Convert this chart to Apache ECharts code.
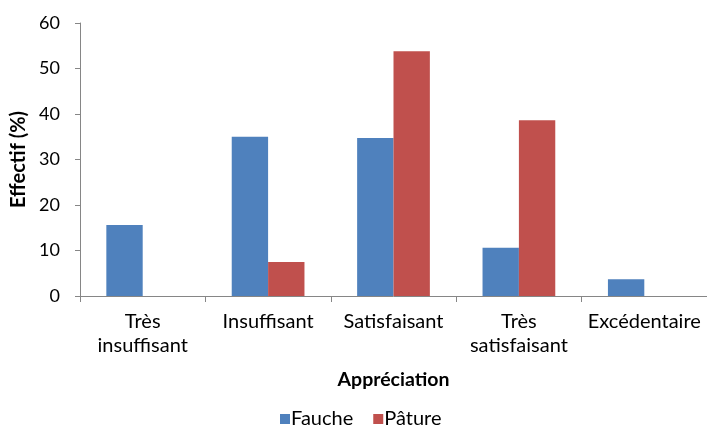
<!DOCTYPE html>
<html>
<head>
<meta charset="utf-8">
<script src="https://cdn.jsdelivr.net/npm/echarts@6/dist/echarts.min.js"></script>
<style>
  html, body { margin: 0; padding: 0; background: #fff; }
  #chart { width: 707px; height: 428px; }
</style>
</head>
<body>
<div id="chart"></div>
<script>
// Appreciation categories (x axis)
const categories = ['Très\ninsuffisant', 'Insuffisant', 'Satisfaisant', 'Très\nsatisfaisant', 'Excédentaire'];
// Share of respondents (%) per management type
const fauche = [15.6, 35.0, 34.7, 10.6, 3.7];
const pature = [null, 7.5, 53.8, 38.6, null];
// Y axis ticks
const yTicks = [0, 10, 20, 30, 40, 50, 60];

const FONT = 'Lato, "Open Sans", sans-serif';
const axisGrey = '#868686';

const chart = echarts.init(document.getElementById('chart'), null, { renderer: 'canvas' });
chart.setOption({
  animation: false,
  backgroundColor: '#ffffff',
  textStyle: { fontFamily: FONT },
  grid: { left: 80, top: 23, width: 630, height: 273, containLabel: false },
  legend: {
    data: ['Fauche', 'Pâture'],
    top: 404,
    left: 275,
    icon: 'rect',
    itemWidth: 10,
    itemHeight: 10,
    itemGap: 20,
    textStyle: { fontFamily: FONT, fontSize: 20, color: '#000', padding: [0, 0, 0, -4] }
  },
  xAxis: {
    type: 'category',
    data: categories,
    boundaryGap: true,
    name: 'Appréciation',
    nameLocation: 'middle',
    nameGap: 74,
    nameTextStyle: { fontFamily: FONT, fontSize: 19.5, fontWeight: 'bold', color: '#000' },
    axisLine: { show: true, lineStyle: { color: axisGrey, width: 1 } },
    axisTick: { show: true, length: 6, lineStyle: { color: axisGrey } },
    axisLabel: { interval: 0, margin: 14, fontSize: 20, lineHeight: 24, color: '#000', fontFamily: FONT }
  },
  yAxis: {
    type: 'value',
    min: yTicks[0],
    max: yTicks[yTicks.length - 1],
    interval: 10,
    name: 'Effectif (%)',
    nameLocation: 'middle',
    nameGap: 48,
    nameTextStyle: { fontFamily: FONT, fontSize: 20, fontWeight: 'bold', color: '#000' },
    axisLine: { show: true, lineStyle: { color: axisGrey, width: 1 } },
    axisTick: { show: true, length: 5, lineStyle: { color: axisGrey } },
    splitLine: { show: false },
    axisLabel: { margin: 20, fontSize: 18, color: '#000', fontFamily: FONT }
  },
  series: [
    {
      name: 'Fauche',
      type: 'bar',
      data: fauche,
      barGap: '0%',
      barCategoryGap: '42%',
      itemStyle: { color: '#4F81BD' }
    },
    {
      name: 'Pâture',
      type: 'bar',
      data: pature,
      itemStyle: { color: '#C0504D' }
    }
  ]
});
</script>
</body>
</html>
